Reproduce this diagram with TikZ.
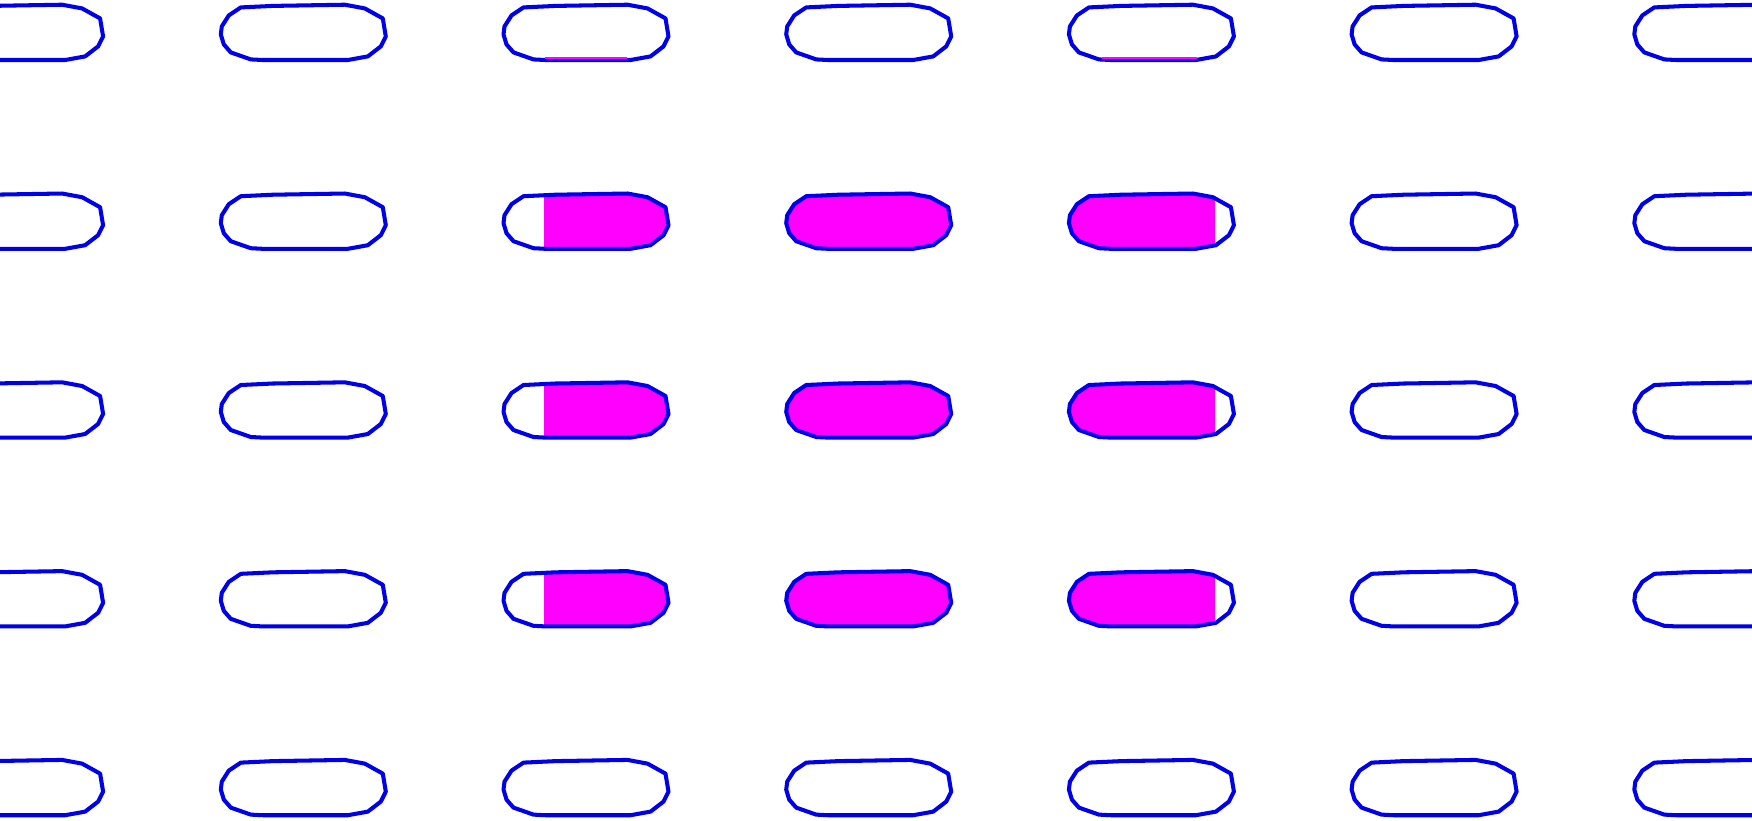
\documentclass[tikz,border=0pt]{standalone}
\usepackage{tikz}
\usetikzlibrary{positioning}
\definecolor{cellpink}{RGB}{255,0,255}
\definecolor{cellblue}{RGB}{0,0,235}
\tikzset{
  cellline/.style={draw=cellblue,line width=1.15pt,line join=round},
  cellfill/.style={fill=cellpink}
}
% outline of one cell, around its centre
\newcommand{\cellpath}{(-82,2) -- (-81,-6) -- (-74,-17) -- (-62,-25) -- (-30,-26.5) -- (42,-27.7) -- (62,-24) -- (80,-14) -- (83,4) -- (78,14) -- (65,24) -- (45,27.6) -- (-40,27.6) -- (-52,27) -- (-72,20) -- (-79,12) -- cycle}

\begin{document}
\begin{tikzpicture}[x=0.01cm,y=-0.01cm]
  \clip (0,0) rectangle (1752,820);
  % Magenta block, cut by the cells
  \foreach \i in {2,3,4} {
    \foreach \j in {1,2,3} {
      \begin{scope}
        \clip[shift={(20.1+282.7*\i,32.4+188.8*\j)}] \cellpath;
        \fill[cellfill] (544,0) rectangle (1215,820);
      \end{scope}
    }
  }
  % Cells
  \foreach \i in {0,...,6} {
    \foreach \j in {0,...,4} {
      \draw[cellline,shift={(20.1+282.7*\i,32.4+188.8*\j)}] \cellpath;
    }
  }
  % Top edge of the block
  \draw[cellpink,line width=0.45pt] (545,58) -- (627,58);
  \draw[cellpink,line width=0.45pt] (1102,58) -- (1197,58);
\end{tikzpicture}
\end{document}
